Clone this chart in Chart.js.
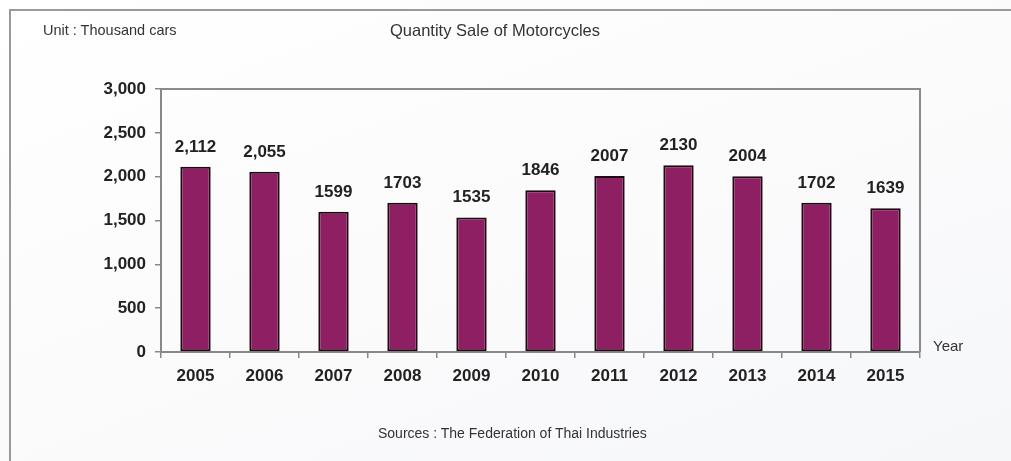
<!DOCTYPE html>
<html>
<head>
<meta charset="utf-8">
<script src="https://cdn.jsdelivr.net/npm/chart.js@4.4.1/dist/chart.umd.min.js"></script>
<style>
  html, body { margin: 0; padding: 0; }
  body { width: 1011px; height: 461px; position: relative; overflow: hidden;
         background: linear-gradient(160deg, #ffffff 0%, #fbfbfc 50%, #f6f7f9 100%); }
  #frame { position: absolute; left: 9px; top: 9px; width: 1010px; height: 460px;
           border-left: 2px solid #9a9a9a; border-top: 2px solid #9a9a9a; }
  .txt { position: absolute; font-family: "Liberation Sans Narrow", "Liberation Sans", sans-serif;
         color: #333; white-space: nowrap; }
  #chartWrap { position: absolute; left: 0; top: 0; width: 1011px; height: 461px; }
</style>
</head>
<body>
<div id="frame"></div>
<div id="chartWrap"><canvas id="c" width="1011" height="461"></canvas></div>
<div class="txt" id="unit" style="left:43px; top:22px; font-size:14.5px;">Unit : Thousand cars</div>
<div class="txt" id="title" style="left:390px; top:21px; font-size:16.5px;">Quantity Sale of Motorcycles</div>
<div class="txt" id="yearLbl" style="left:933px; top:337px; font-size:15px;">Year</div>
<div class="txt" id="source" style="left:378px; top:425px; font-size:14px;">Sources : The Federation of Thai Industries</div>
<script>
const years = ["2005","2006","2007","2008","2009","2010","2011","2012","2013","2014","2015"];
const sales = [2112, 2055, 1599, 1703, 1535, 1846, 2007, 2130, 2004, 1702, 1639];
const valueLabels = ["2,112","2,055","1599","1703","1535","1846","2007","2130","2004","1702","1639"];
const yTicks = [0, 500, 1000, 1500, 2000, 2500, 3000];

const boxPlugin = {
  id: 'boxPlugin',
  afterDatasetsDraw(chart) {
    const {ctx, chartArea: a} = chart;
    ctx.save();
    ctx.strokeStyle = '#8a8a8a';
    ctx.lineWidth = 2;
    ctx.beginPath();
    ctx.moveTo(a.left, a.top);
    ctx.lineTo(a.right, a.top);
    ctx.lineTo(a.right, a.bottom);
    ctx.stroke();
    const meta = chart.getDatasetMeta(0);
    ctx.fillStyle = '#222';
    ctx.font = 'bold 17px "Liberation Sans", Arial, sans-serif';
    ctx.textAlign = 'center';
    ctx.textBaseline = 'alphabetic';
    meta.data.forEach((bar, i) => {
      ctx.fillText(valueLabels[i], bar.x, bar.y - 15);
    });
    ctx.restore();
  }
};

new Chart(document.getElementById('c'), {
  type: 'bar',
  data: {
    labels: years,
    datasets: [{
      data: sales,
      backgroundColor: '#8e1f62',
      borderColor: '#1f0a14',
      borderWidth: 2,
      borderSkipped: false,
      categoryPercentage: 1,
      barPercentage: 0.44
    }]
  },
  options: {
    responsive: false,
    animation: false,
    layout: { padding: { top: 89, right: 91, bottom: 0, left: 0 } },
    plugins: { legend: { display: false }, tooltip: { enabled: false } },
    scales: {
      x: {
        offset: true,
        grid: { offset: true, drawOnChartArea: false, drawTicks: true, tickLength: 6, color: '#888', lineWidth: 1.5 },
        border: { display: true, color: '#888', width: 2 },
        ticks: { color: '#222', padding: 8, font: { family: '"Liberation Sans", Arial, sans-serif', size: 17, weight: 'bold' } },
        afterFit(scale) { scale.height = 109; }
      },
      y: {
        min: 0, max: 3000,
        afterBuildTicks(scale) { scale.ticks = yTicks.map(v => ({ value: v })); },
        grid: { drawOnChartArea: false, drawTicks: true, tickLength: 6, color: '#888', lineWidth: 1.5 },
        border: { display: true, color: '#888', width: 2 },
        ticks: {
          color: '#222', padding: 9,
          font: { family: '"Liberation Sans", Arial, sans-serif', size: 17, weight: 'bold' },
          callback: v => v.toLocaleString('en-US')
        },
        afterFit(scale) { scale.width = 161; }
      }
    }
  },
  plugins: [boxPlugin]
});
</script>
</body>
</html>
